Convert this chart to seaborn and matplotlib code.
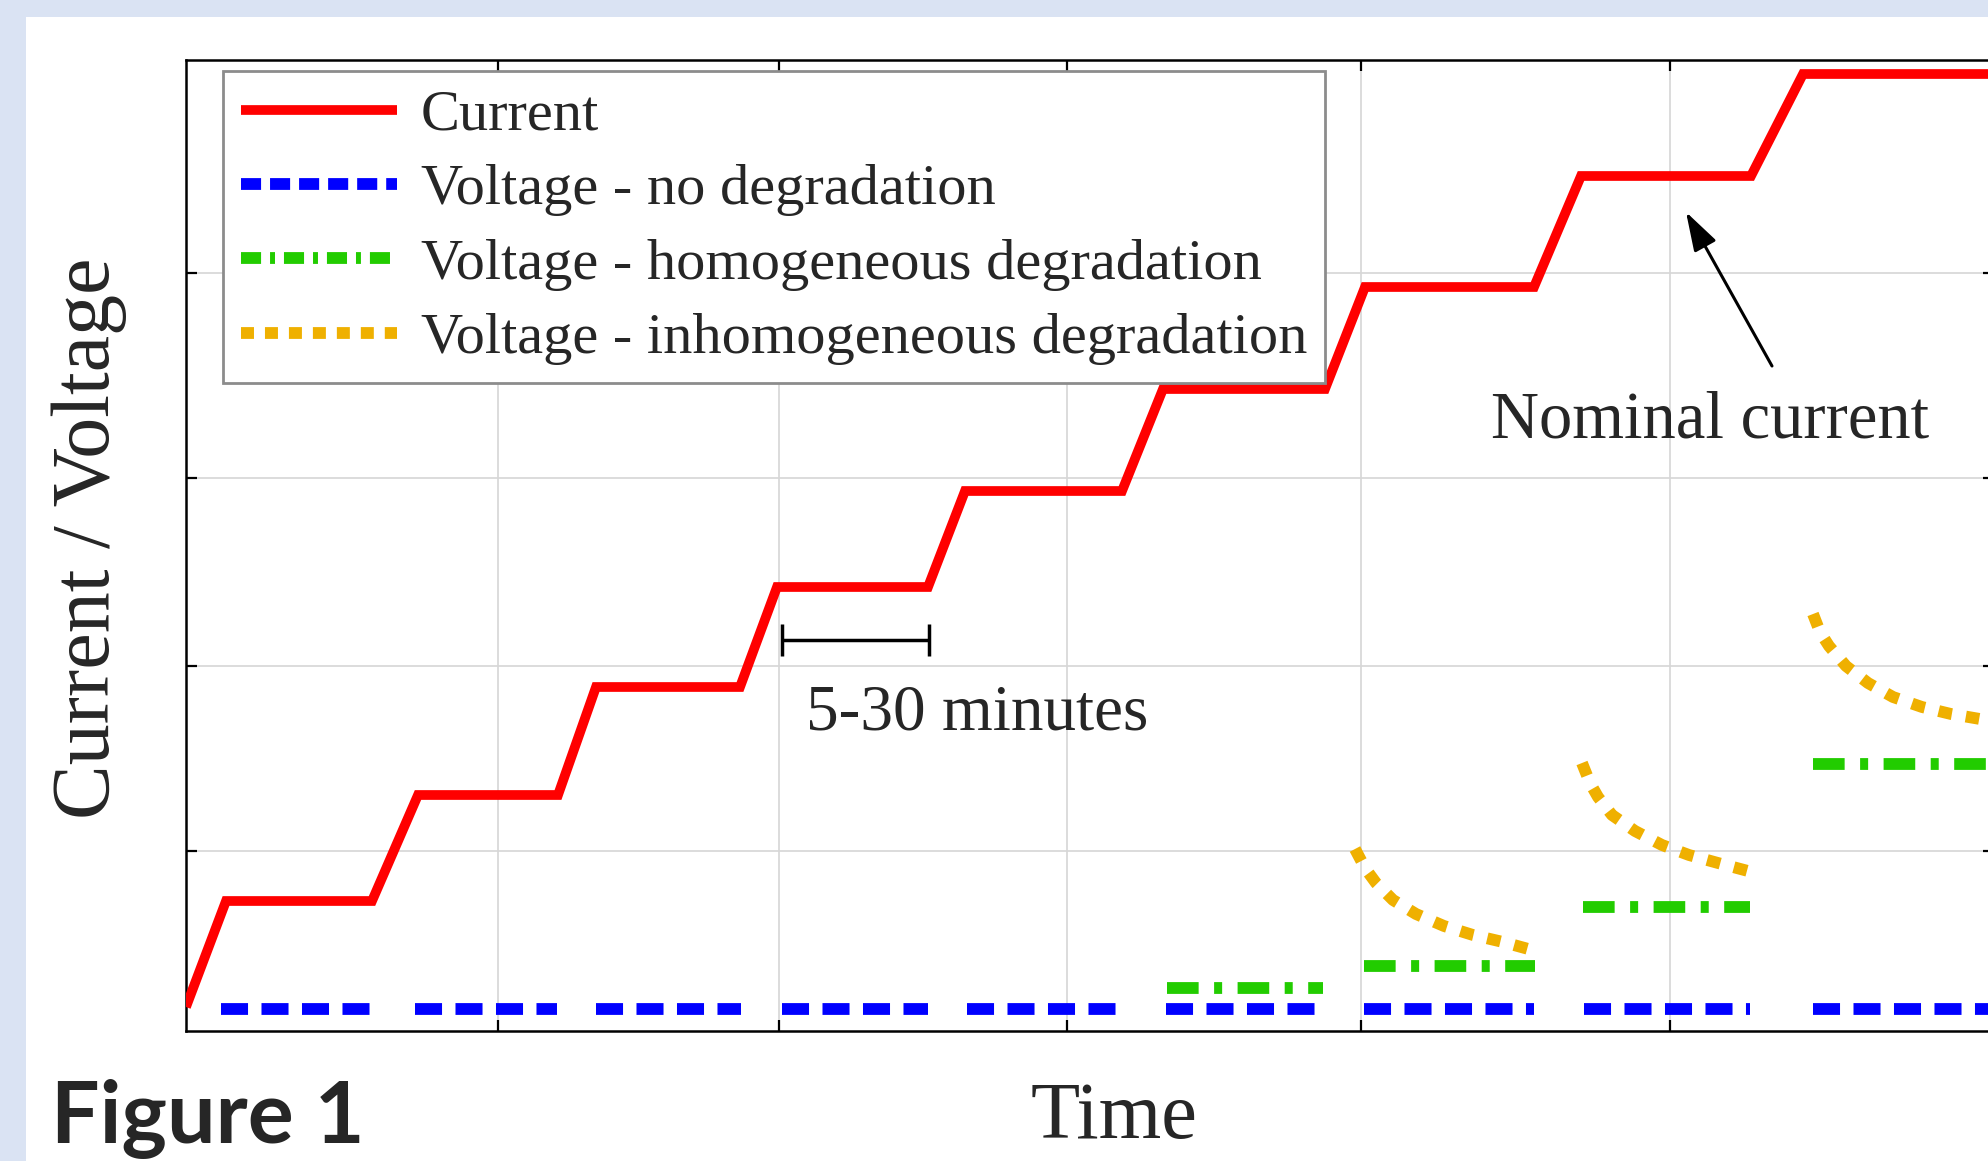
import matplotlib
matplotlib.use("Agg")
import matplotlib.pyplot as plt
from matplotlib.lines import Line2D
from matplotlib.patches import Rectangle
import pandas as pd
import seaborn as sns

# ---------------- data (arbitrary units) ----------------
current_t = [0.0, 4.0, 18.6, 23.2, 37.2, 41.0, 55.4, 59.1, 74.2, 77.9,
             93.6, 97.7, 113.9, 117.9, 134.8, 139.5, 156.5, 161.7, 180.8]
current_v = [2.4, 13.0, 13.0, 23.6, 23.6, 34.4, 34.4, 44.4, 44.4, 54.0,
             54.0, 64.2, 64.2, 74.4, 74.4, 85.5, 85.5, 95.7, 95.7]

nodeg_start = [3.5, 22.9, 41.0, 59.6, 78.1, 98.0, 117.8, 139.8, 162.7]
nodeg_end = [18.5, 37.1, 55.5, 74.2, 93.5, 113.3, 134.8, 156.4, 180.8]
nodeg_v = [2.2, 2.2, 2.2, 2.2, 2.2, 2.2, 2.2, 2.2, 2.2]

homog_start = [98.1, 117.8, 139.7, 162.7]
homog_end = [113.7, 134.9, 156.4, 180.8]
homog_v = [4.3, 6.5, 12.4, 26.7]

inhom1_t = [116.9, 117.9, 119.0, 120.7, 123.0, 125.8, 128.7, 131.7, 134.6]
inhom1_v = [18.2, 16.3, 14.8, 13.1, 11.7, 10.5, 9.6, 8.9, 8.1]
inhom2_t = [139.6, 140.4, 141.2, 142.6, 144.9, 147.6, 150.3, 153.2, 156.2]
inhom2_v = [26.8, 24.8, 23.4, 21.6, 20.0, 18.6, 17.6, 16.8, 16.0]
inhom3_t = [162.7, 163.4, 164.3, 166.0, 168.2, 170.7, 173.6, 176.5, 179.4, 180.8]
inhom3_v = [41.7, 39.9, 38.5, 36.5, 34.8, 33.4, 32.4, 31.7, 31.2, 31.0]

time_ticks = [31.2, 59.3, 88.1, 117.5, 148.4]
level_ticks = [18.0, 36.5, 55.3, 75.8]

legend_labels = ["Current", "Voltage - no degradation",
                 "Voltage - homogeneous degradation",
                 "Voltage - inhomogeneous degradation"]

bracket_span = [59.6, 74.3]
bracket_level = 39.1
bracket_text = "5-30 minutes"
bracket_text_pos = [79.1, 30.1]

nominal_tip = [150.0, 81.9]
nominal_tail = [158.6, 66.5]
nominal_text = "Nominal current"
nominal_text_pos = [152.4, 59.4]

# ---------------- styling ----------------
RED = "#ff0000"
BLUE = "#0000ff"
GREEN = "#22cc00"
ORANGE = "#efb000"
BG = "#dae3f3"

sns.set_style("ticks")
plt.rcParams["font.family"] = ["Liberation Serif", "DejaVu Serif"]

W, H = 1988, 1161
fig = plt.figure(figsize=(W / 100, H / 100), dpi=100, facecolor=BG)
fig.add_artist(Rectangle((26 / W, 0), 1, 1 - 17 / H, transform=fig.transFigure,
                         facecolor="white", edgecolor="none", zorder=-1))
ax = fig.add_axes([186 / W, 1 - 1031 / H, (1994 - 186) / W, (1031 - 60) / H])
ax.set_facecolor("white")

# long-form tables
df_current = pd.DataFrame({"t": current_t, "v": current_v})


def segments(starts, ends, levels):
    rows = []
    for i, (a, b, v) in enumerate(zip(starts, ends, levels)):
        rows.append({"seg": i, "t": a, "v": v})
        rows.append({"seg": i, "t": b, "v": v})
    return pd.DataFrame(rows)


df_nodeg = segments(nodeg_start, nodeg_end, nodeg_v)
df_homog = segments(homog_start, homog_end, homog_v)
df_inhom = pd.concat([
    pd.DataFrame({"seg": k, "t": t, "v": v})
    for k, (t, v) in enumerate([(inhom1_t, inhom1_v), (inhom2_t, inhom2_v),
                                (inhom3_t, inhom3_v)])
], ignore_index=True)

LW_V = 8.5
DASH_BLUE = (0, (2.29, 1.14))
DASH_GREEN = (0, (2.68, 1.31, 0.68, 1.31))
DOT_ORANGE = (0, (1.15, 1.2))

sns.lineplot(data=df_current, x="t", y="v", sort=False, estimator=None,
             color=RED, linewidth=7, solid_joinstyle="miter",
             solid_capstyle="butt", ax=ax, zorder=4)
sns.lineplot(data=df_nodeg, x="t", y="v", units="seg", estimator=None,
             sort=False, color=BLUE, linewidth=LW_V, linestyle=DASH_BLUE,
             dash_capstyle="butt", ax=ax, zorder=3)
sns.lineplot(data=df_homog, x="t", y="v", units="seg", estimator=None,
             sort=False, color=GREEN, linewidth=LW_V, linestyle=DASH_GREEN,
             dash_capstyle="butt", ax=ax, zorder=3)
sns.lineplot(data=df_inhom, x="t", y="v", units="seg", estimator=None,
             sort=False, color=ORANGE, linewidth=LW_V, linestyle=DOT_ORANGE,
             dash_capstyle="butt", ax=ax, zorder=3)

# axes
ax.set_xlim(0, 180.8)
ax.set_ylim(0, 97.1)
ax.set_xticks(time_ticks)
ax.set_yticks(level_ticks)
ax.tick_params(which="both", direction="in", length=8, width=1.6,
               top=True, right=True, bottom=True, left=True,
               labelbottom=False, labelleft=False, color="black")
for s in ax.spines.values():
    s.set_visible(True)
    s.set_color("black")
    s.set_linewidth(1.8)
ax.grid(True, color="#d6d6d6", linewidth=1.2)
ax.set_axisbelow(True)

ax.set_xlabel("Time", fontsize=58, va="baseline")
ax.xaxis.set_label_coords((1114 - 186) / (1994 - 186), (1031 - 1138) / (1031 - 60))
ax.set_ylabel("Current / Voltage", fontsize=59)
ax.yaxis.set_label_coords((127 - 186) / (1994 - 186), (1031 - 538) / (1031 - 60))

# annotations
mid = (bracket_span[0] + bracket_span[1]) / 2
half = (bracket_span[1] - bracket_span[0]) / 2
ax.errorbar([mid], [bracket_level], xerr=[half], fmt="none", ecolor="black",
            elinewidth=2.5, capsize=11.5, capthick=2.5, zorder=5)
ax.text(bracket_text_pos[0], bracket_text_pos[1], bracket_text, fontsize=47,
        ha="center", va="baseline", zorder=6)
ax.annotate("", xy=nominal_tip, xytext=nominal_tail,
            arrowprops=dict(arrowstyle="-|>,head_length=1.2,head_width=0.38",
                            mutation_scale=20, lw=2.2, color="black",
                            shrinkA=0, shrinkB=0), zorder=6)
ax.text(nominal_text_pos[0], nominal_text_pos[1], nominal_text, fontsize=48,
        ha="center", va="baseline", zorder=6)

# legend
handles = [
    Line2D([], [], color=RED, linewidth=7, solid_capstyle="butt"),
    Line2D([], [], color=BLUE, linewidth=LW_V, linestyle=(0, (1.7, 0.76)),
           dash_capstyle="butt"),
    Line2D([], [], color=GREEN, linewidth=LW_V,
           linestyle=(0, (1.7, 0.76, 0.42, 0.76)), dash_capstyle="butt"),
    Line2D([], [], color=ORANGE, linewidth=LW_V, linestyle=(0, (1.1, 0.93)),
           dash_capstyle="butt"),
]
leg = ax.legend(handles, legend_labels, loc="upper left",
                bbox_to_anchor=(223 / W, 1 - 71 / H),
                bbox_transform=fig.transFigure, borderaxespad=0,
                fontsize=42, handlelength=2.67, handletextpad=0.41,
                labelspacing=0.37, borderpad=0.31, fancybox=False,
                framealpha=1, edgecolor="#8c8c8c", facecolor="white")
leg.get_frame().set_linewidth(2)
leg.set_zorder(7)

fig.text(51 / W, 1 - 1143 / H, "Figure 1", family=["Lato", "DejaVu Sans"],
         weight="bold", fontsize=62, ha="left", va="baseline")

fig.savefig("out.png", dpi=100, facecolor=fig.get_facecolor())
